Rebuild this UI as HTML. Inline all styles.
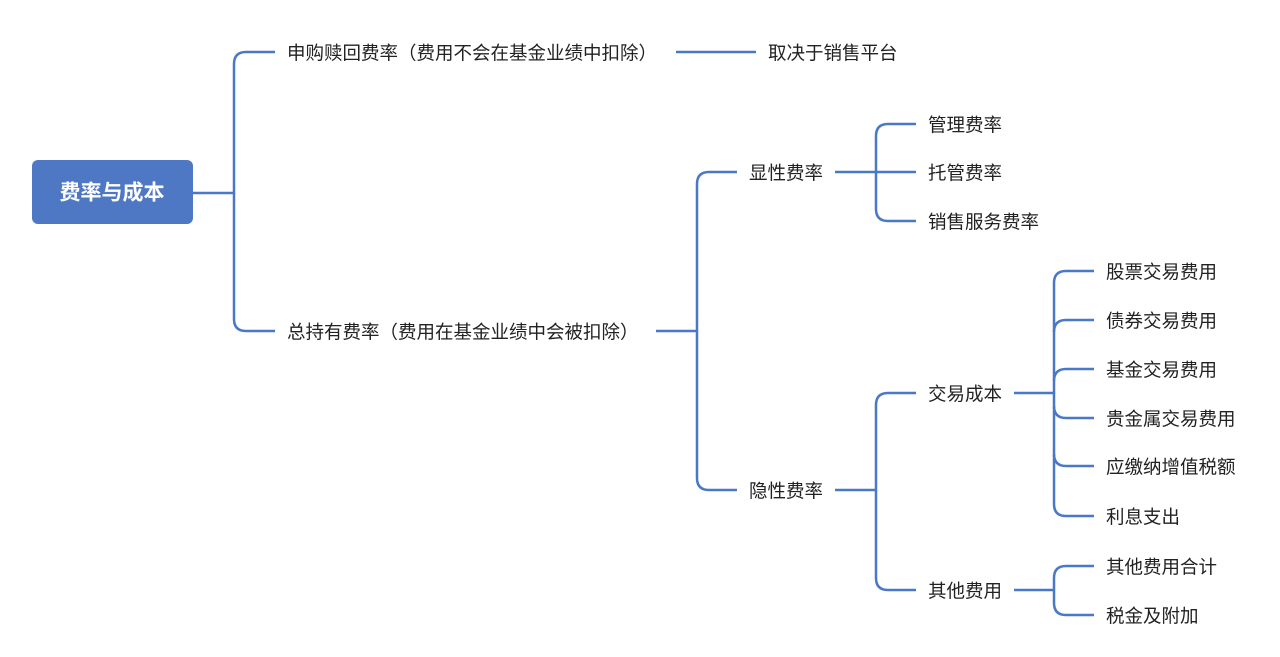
<!DOCTYPE html>
<html><head><meta charset="utf-8"><style>
html,body{margin:0;padding:0;background:#fff;}
svg{display:block;}
text{font-family:"Liberation Sans","Noto Sans CJK SC",sans-serif;font-size:18.5px;fill:#222;dominant-baseline:central;}
</style></head><body>
<svg width="1280" height="657" viewBox="0 0 1280 657">
<g fill="none" stroke="#4a77c6" stroke-width="2.5">
<path d="M193 193H234"/>
<path d="M275 52H246Q234 52 234 64V319Q234 331 246 331H275"/>
<path d="M676 52H756"/>
<path d="M656 331H697"/>
<path d="M737 172H709Q697 172 697 184V478Q697 490 709 490H737"/>
<path d="M835 172H876"/>
<path d="M916 124H888Q876 124 876 136V209Q876 221 888 221H916M876 172H916"/>
<path d="M835 490H876"/>
<path d="M916 393H888Q876 393 876 405V578Q876 590 888 590H916"/>
<path d="M1014 393H1054"/>
<path d="M1094 271H1066Q1054 271 1054 283V504Q1054 516 1066 516H1094"/>
<path d="M1054 332Q1054 320 1066 320H1094M1054 381Q1054 369 1066 369H1094M1054 406Q1054 418 1066 418H1094M1054 454Q1054 466 1066 466H1094"/>
<path d="M1014 590H1054"/>
<path d="M1094 566H1066Q1054 566 1054 578V603Q1054 615 1066 615H1094"/>
</g>
<rect x="32" y="160" width="161" height="64" rx="6" fill="#4e78c4"/>
<text x="112" y="193" text-anchor="middle" style="fill:#fff;font-weight:bold;font-size:21px">费率与成本</text>
<text x="287" y="53">申购赎回费率（费用不会在基金业绩中扣除）</text>
<text x="768" y="53">取决于销售平台</text>
<text x="287" y="332">总持有费率（费用在基金业绩中会被扣除）</text>
<text x="749" y="173">显性费率</text>
<text x="749" y="491">隐性费率</text>
<text x="928" y="125">管理费率</text>
<text x="928" y="173">托管费率</text>
<text x="928" y="222">销售服务费率</text>
<text x="928" y="394">交易成本</text>
<text x="928" y="591">其他费用</text>
<text x="1106" y="272">股票交易费用</text>
<text x="1106" y="321">债券交易费用</text>
<text x="1106" y="370">基金交易费用</text>
<text x="1106" y="419">贵金属交易费用</text>
<text x="1106" y="467">应缴纳增值税额</text>
<text x="1106" y="517">利息支出</text>
<text x="1106" y="567">其他费用合计</text>
<text x="1106" y="616">税金及附加</text>
</svg>
</body></html>
